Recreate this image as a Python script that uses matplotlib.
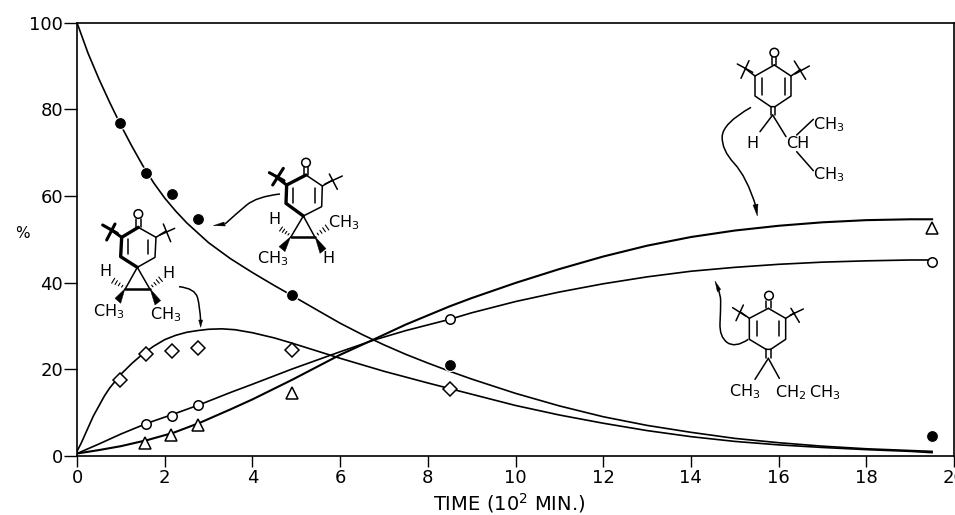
import matplotlib
matplotlib.use("Agg")
import matplotlib.pyplot as plt
from matplotlib.path import Path
from matplotlib.patches import PathPatch, Polygon, Circle
from matplotlib.transforms import Affine2D

# ---- curves (time in 10^2 min, percent)
reactant_t = [0, 0.25, 0.5, 0.75, 1, 1.25, 1.5, 1.75, 2, 2.25, 2.5, 2.75, 3, 3.5, 4, 4.5, 4.9, 5.5, 6, 6.5, 7, 7.5, 8, 8.5, 9, 10, 11, 12, 13, 14, 15, 16, 17, 18, 19, 19.5]
reactant_y = [100, 93, 87, 81.5, 76.3, 71.5, 67, 63, 59.5, 56.5, 53.8, 51.5, 49.2, 45.5, 42.3, 39.3, 37, 33.5, 30.6, 28, 25.6, 23.4, 21.4, 19.5, 17.7, 14.4, 11.5, 9, 7, 5.4, 4, 3, 2.2, 1.6, 1.2, 1]

diamond_t = [0, 0.1, 0.25, 0.375, 0.5, 0.625, 0.75, 1, 1.25, 1.5, 1.75, 2, 2.25, 2.5, 2.75, 3, 3.3, 3.6, 4, 4.5, 4.9, 5.5, 6, 7, 8, 8.5, 9, 10, 11, 12, 13, 14, 15, 16, 17, 18, 19, 19.5]
diamond_y = [1, 3, 6.4, 9.2, 11.5, 13.8, 15.7, 18.8, 21.3, 23.5, 25.3, 26.8, 27.8, 28.5, 28.9, 29.2, 29.3, 29.1, 28.4, 27.2, 26, 24.1, 22.5, 19.5, 16.8, 15.5, 14.2, 11.6, 9.4, 7.5, 5.8, 4.4, 3.3, 2.5, 1.9, 1.4, 1, 0.7]

circle_t = [0, 0.5, 1, 1.6, 2.2, 2.8, 3.5, 4, 4.9, 6, 6.8, 7.5, 8.5, 9, 10, 11, 12, 13, 14, 15, 16, 17, 18, 19, 19.5]
circle_y = [0.5, 2.7, 5, 7.5, 9.6, 11.8, 14.6, 16.5, 20, 24, 26.8, 28.9, 31.5, 33, 35.6, 37.8, 39.7, 41.3, 42.6, 43.5, 44.2, 44.7, 45, 45.2, 45.2]

triangle_t = [0, 0.5, 1, 1.6, 2.2, 2.8, 3.5, 4, 4.9, 6, 6.8, 7.5, 8.5, 9, 10, 11, 12, 13, 14, 15, 16, 17, 18, 19, 19.5]
triangle_y = [0.5, 1.3, 2.2, 3.6, 5.3, 7.6, 10.7, 13, 17.5, 23.3, 27, 30.3, 34.5, 36.4, 39.9, 43.1, 46, 48.5, 50.5, 52, 53.1, 53.9, 54.4, 54.6, 54.6]

# ---- measured points
reactant_pt_t = [0.97, 1.57, 2.17, 2.75, 4.9, 8.5, 19.5]
reactant_pt_y = [76.8, 65.4, 60.5, 54.7, 37, 21, 4.5]
diamond_pt_t = [0.97, 1.57, 2.17, 2.75, 4.9, 8.5]
diamond_pt_y = [17.5, 23.5, 24.2, 24.8, 24.5, 15.5]
circle_pt_t = [1.57, 2.17, 2.75, 8.5, 19.5]
circle_pt_y = [7.3, 9.2, 11.7, 31.5, 44.8]
triangle_pt_t = [1.55, 2.15, 2.75, 4.9, 19.5]
triangle_pt_y = [3, 4.8, 7, 14.5, 52.5]

x_ticks = [0, 2, 4, 6, 8, 10, 12, 14, 16, 18, 20]
y_ticks = [0, 20, 40, 60, 80, 100]

W, H = 955, 515
plt.rcParams['font.family'] = ['DejaVu Sans']
plt.rcParams['mathtext.default'] = 'regular'
fig = plt.figure(figsize=(W / 100, H / 100), dpi=100)
ax = fig.add_axes([77 / W, (H - 455.7) / H, (954 - 77) / W, (455.7 - 22.7) / H])
ax.set_xlim(0, 20)
ax.set_ylim(0, 100)
ax.set_xticks(x_ticks)
ax.set_yticks(y_ticks)
ax.tick_params(axis='x', length=8, width=1.0, pad=1.5, labelsize=13)
ax.tick_params(axis='y', length=9.5, width=1.0, pad=0.5, labelsize=13)
for s in ax.spines.values():
    s.set_linewidth(1.2)

ax.plot(reactant_t, reactant_y, color='black', lw=1.2, zorder=2)
ax.plot(diamond_t, diamond_y, color='black', lw=1.2, zorder=2)
ax.plot(circle_t, circle_y, color='black', lw=1.2, zorder=2)
ax.plot(triangle_t, triangle_y, color='black', lw=1.5, zorder=2)

ax.plot(reactant_pt_t, reactant_pt_y, ls='none', marker='o', ms=8.6, mfc='black', mec='white', mew=0.8, zorder=3, clip_on=False)
ax.plot(diamond_pt_t, diamond_pt_y, ls='none', marker='D', ms=7, mfc='white', mec='black', mew=1.1, zorder=3)
ax.plot(circle_pt_t, circle_pt_y, ls='none', marker='o', ms=6.8, mfc='white', mec='black', mew=1.1, zorder=3)
ax.plot(triangle_pt_t, triangle_pt_y, ls='none', marker='^', ms=8, mfc='white', mec='black', mew=1.1, zorder=3)

# ---- annotations placed in image pixels
px = Affine2D().scale(1, -1).translate(0, H)


def mapper(ox, oy):
    return lambda p: (ox + p[0] / 3, oy + p[1] / 3)


def seg(m, pts, lw=1.1):
    xy = [m(p) for p in pts]
    fig.add_artist(plt.Line2D([q[0] for q in xy], [q[1] for q in xy], color='black', lw=lw,
                              transform=px, solid_capstyle='round', solid_joinstyle='round'))


def fill(m, pts):
    fig.add_artist(Polygon([m(p) for p in pts], closed=True, fc='black', ec='black', lw=0.3, transform=px))


def circ(m, c, r, lw=1.1):
    fig.add_artist(Circle(m(c), r / 3, fc='white', ec='black', lw=lw, transform=px))


def curve(m, pts, lw=1.1):
    xy = [m(p) for p in pts]
    verts, codes = [xy[0]], [Path.MOVETO]
    for i in range(1, len(xy) - 1):
        end = xy[i + 1] if i == len(xy) - 2 else ((xy[i][0] + xy[i + 1][0]) / 2, (xy[i][1] + xy[i + 1][1]) / 2)
        verts += [xy[i], end]
        codes += [Path.CURVE3, Path.CURVE3]
    fig.add_artist(PathPatch(Path(verts, codes), fc='none', ec='black', lw=lw, transform=px))


def label(m, p, s, size=11.5):
    q = m(p)
    fig.text(q[0], q[1], s, transform=px, ha='center', va='center', fontsize=size)


def cross(m, a, b, lw=1.1):
    seg(m, a, lw)
    seg(m, b, lw)


def hash_bond(m, a, b, n=4):
    for i in range(n):
        t = (i + 0.6) / n
        cx, cy = a[0] + (b[0] - a[0]) * t, a[1] + (b[1] - a[1]) * t
        dx, dy = b[0] - a[0], b[1] - a[1]
        k = 0.05 + 0.17 * t
        seg(m, [(cx - dy * k, cy + dx * k), (cx + dy * k, cy - dx * k)], 0.8)


# --- structure, upper right
m = mapper(680, 0)
seg(m, [(283, 195), (333, 228), (333, 288), (285, 320), (272, 320), (225, 288), (225, 228), (283, 195)])
seg(m, [(247, 235), (247, 285)])
seg(m, [(316, 235), (316, 285)])
seg(m, [(277, 172), (277, 195)])
seg(m, [(289, 172), (289, 195)])
circ(m, (283, 158), 13)
seg(m, [(225, 228), (195, 205)])
cross(m, [(172, 192), (218, 217)], [(183, 235), (207, 182)])
seg(m, [(333, 228), (362, 208)])
cross(m, [(343, 183), (377, 238)], [(345, 222), (388, 198)])
seg(m, [(272, 320), (272, 345)])
seg(m, [(285, 320), (285, 345)])
seg(m, [(278, 345), (240, 395)])
seg(m, [(278, 345), (318, 410)])
seg(m, [(350, 405), (400, 358)])
seg(m, [(350, 455), (400, 512)])
label(m, (218, 430), 'H')
label(m, (352, 432), 'CH')
label(m, (447, 374), 'CH$_3$')
label(m, (445, 524), 'CH$_3$')
curve(m, [(213, 322), (128, 370), (125, 450), (200, 530), (228, 620)])
fill(m, [(219, 615), (234, 612), (232, 648)])

# --- structure, lower right
m = mapper(680, 240)
seg(m, [(265, 205), (317, 235), (317, 298), (272, 328), (258, 328), (208, 298), (208, 235), (265, 205)])
seg(m, [(232, 243), (232, 288)])
seg(m, [(298, 243), (298, 288)])
seg(m, [(258, 182), (258, 205)])
seg(m, [(272, 182), (272, 205)])
circ(m, (267, 167), 13)
seg(m, [(208, 235), (180, 215)])
cross(m, [(158, 203), (197, 228)], [(168, 242), (190, 195)])
seg(m, [(317, 235), (345, 218)])
cross(m, [(333, 205), (358, 247)], [(330, 226), (370, 207)])
seg(m, [(258, 328), (258, 355)])
seg(m, [(272, 328), (272, 355)])
seg(m, [(265, 355), (225, 418)])
seg(m, [(265, 355), (298, 415)])
label(m, (195, 456), 'CH$_3$')
label(m, (332, 458), 'CH$_2$')
label(m, (435, 458), 'CH$_3$')
curve(m, [(205, 298), (165, 325), (118, 290), (122, 210), (122, 160), (112, 142)])
fill(m, [(105, 123), (122, 148), (112, 155)])

# --- structure, left
m = mapper(80, 150)
seg(m, [(175, 232), (228, 262), (225, 322), (172, 352)])
seg(m, [(175, 232), (125, 262), (122, 320), (172, 352)], 2.4)
seg(m, [(145, 268), (145, 312)])
seg(m, [(205, 270), (205, 312)])
seg(m, [(168, 207), (168, 232)])
seg(m, [(182, 207), (182, 232)])
circ(m, (175, 192), 13)
seg(m, [(125, 262), (92, 238)], 2.2)
cross(m, [(68, 225), (112, 250)], [(80, 270), (105, 222)], 2.2)
seg(m, [(228, 262), (258, 243)])
cross(m, [(250, 222), (272, 275)], [(240, 255), (284, 235)])
seg(m, [(172, 352), (135, 418)])
seg(m, [(172, 352), (210, 418)])
seg(m, [(135, 418), (210, 418)], 1.8)
fill(m, [(135, 416), (105, 445), (122, 460)])
fill(m, [(210, 416), (225, 465), (242, 452)])
hash_bond(m, (132, 412), (96, 390))
hash_bond(m, (212, 412), (245, 385))
label(m, (75, 365), 'H')
label(m, (265, 370), 'H')
label(m, (87, 484), 'CH$_3$')
label(m, (258, 494), 'CH$_3$')
curve(m, [(297, 410), (345, 415), (360, 470), (362, 515)])
fill(m, [(356, 510), (368, 510), (362, 532)])

# --- structure, middle
m = mapper(80, 150)
seg(m, [(678, 75), (727, 108), (725, 170), (670, 198)])
seg(m, [(678, 75), (620, 105), (618, 160), (670, 198)], 2.4)
seg(m, [(640, 115), (640, 158)])
seg(m, [(705, 115), (705, 158)])
seg(m, [(672, 52), (672, 75)])
seg(m, [(685, 52), (685, 75)])
circ(m, (678, 38), 13)
seg(m, [(620, 105), (590, 82)], 2.2)
cross(m, [(568, 68), (612, 92)], [(578, 105), (610, 55)], 2.2)
seg(m, [(727, 108), (758, 90)])
cross(m, [(748, 72), (772, 118)], [(735, 102), (787, 78)])
seg(m, [(670, 198), (632, 262)])
seg(m, [(670, 198), (705, 262)])
seg(m, [(632, 262), (705, 262)], 1.8)
fill(m, [(632, 260), (597, 290), (615, 305)])
fill(m, [(705, 260), (720, 310), (738, 296)])
hash_bond(m, (630, 256), (600, 235))
hash_bond(m, (708, 256), (745, 230))
label(m, (582, 210), 'H')
label(m, (790, 219), 'CH$_3$')
label(m, (578, 325), 'CH$_3$')
label(m, (745, 325), 'H')
curve(m, [(600, 132), (530, 140), (470, 190), (435, 222)])
fill(m, [(400, 227), (432, 216), (436, 228)])

# --- axis labels
fig.text(22, 234, '%', transform=px, ha='center', va='center', fontsize=11)
fig.text(509, 510.5, 'TIME (10$^{2}$ MIN.)', transform=px, ha='center', va='baseline', fontsize=14)

fig.savefig('out.png', dpi=100)
